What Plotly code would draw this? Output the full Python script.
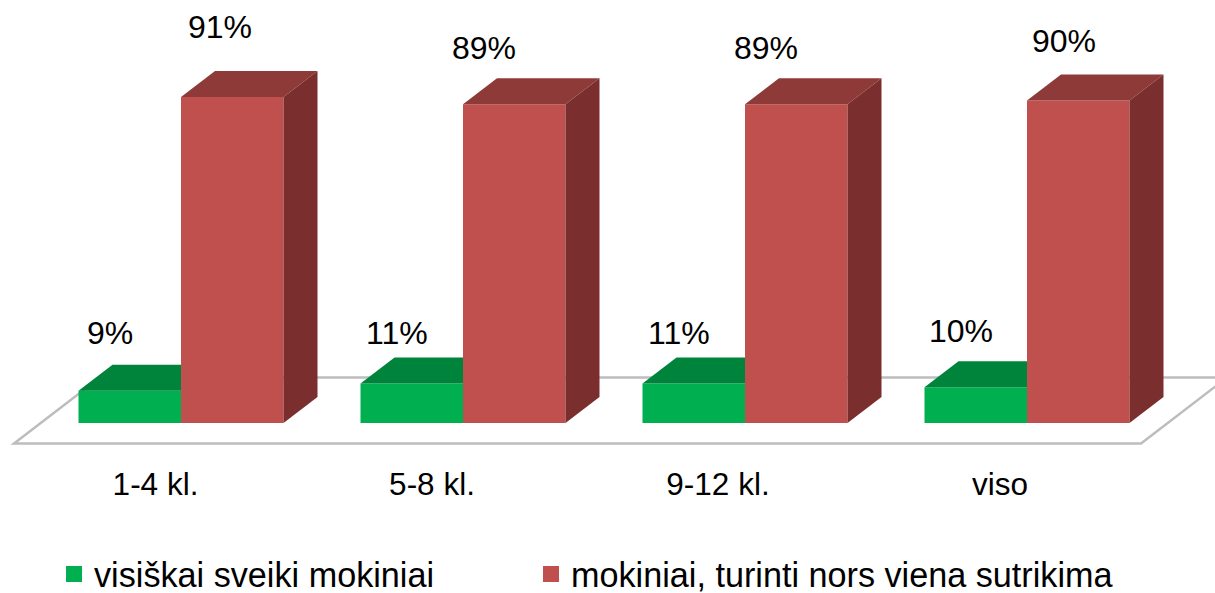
import plotly.graph_objects as go

categories = ["1-4 kl.", "5-8 kl.", "9-12 kl.", "viso"]
healthy = [9, 11, 11, 10]
affected = [91, 89, 89, 90]
healthy_name = "visiškai sveiki mokiniai"
affected_name = "mokiniai, turinti nors viena sutrikima"

FONT = "Liberation Sans, Arial, sans-serif"
W, H = 1215, 593
PLOT_BOTTOM = 462
PX_X = 282.0      # px per group
PX_Y = 3.582      # px per percent
X0_PX, Y0_PX = 181.0, 423.0
BAR = 102.5 / PX_X
DX, DY = 34 / PX_X, 26 / PX_Y

xs = list(range(len(categories)))
xr = [-X0_PX / PX_X, (W - X0_PX) / PX_X]
yr = [-(PLOT_BOTTOM - Y0_PX) / PX_Y, Y0_PX / PX_Y]

def px(xp): return (xp - X0_PX) / PX_X
def py(yp): return (Y0_PX - yp) / PX_Y

fig = go.Figure()
fig.add_bar(x=xs, y=healthy, width=BAR, offset=-BAR, marker=dict(color="#00B050", line_width=0), showlegend=False)
fig.add_bar(x=xs, y=affected, width=BAR, offset=0, marker=dict(color="#C0504D", line_width=0), showlegend=False)

def poly(pts, color):
    fig.add_scatter(x=[p[0] for p in pts] + [pts[0][0]], y=[p[1] for p in pts] + [pts[0][1]],
                    mode="lines", fill="toself", fillcolor=color, line=dict(width=0, color=color),
                    showlegend=False, hoverinfo="skip")

for x, g, r in zip(xs, healthy, affected):
    poly([(x - BAR, g), (x - BAR + DX, g + DY), (x, g + DY), (x, g)], "#00843C")
    poly([(x, r), (x + DX, r + DY), (x + BAR + DX, r + DY), (x + BAR, r)], "#8E3A38")
    poly([(x + BAR, 0), (x + BAR + DX, DY), (x + BAR + DX, r + DY), (x + BAR, r)], "#7A2F2E")

# legend proxies
fig.add_scatter(x=[None], y=[None], mode="markers", name=healthy_name, legend="legend",
                marker=dict(symbol="square", size=16, color="#00B050"))
fig.add_scatter(x=[None], y=[None], mode="markers", name=affected_name, legend="legend2",
                marker=dict(symbol="square", size=16, color="#C0504D"))

# floor
floor = [(14, 443.5), (1141, 443.5), (1227, 377.5), (100, 377.5)]
path = "M " + " L ".join(f"{px(a)},{py(b)}" for a, b in floor) + " Z"
fig.add_shape(type="path", path=path, xref="x", yref="y", layer="below",
              fillcolor="white", line=dict(color="#BDBDBD", width=2.5))

label_shift_g = [(-19.5, 58), (-14.5, 51), (-14.5, 51), (-15, 56)]
label_shift_r = [(-12, 70), (-30, 56), (-30, 56), (-14, 60)]
for x, g, r, sg, sr in zip(xs, healthy, affected, label_shift_g, label_shift_r):
    fig.add_annotation(x=x - BAR / 2, y=g, text=f"{g}%", showarrow=False, xshift=sg[0], yshift=sg[1],
                       font=dict(family=FONT, size=32, color="black"))
    fig.add_annotation(x=x + BAR / 2, y=r, text=f"{r}%", showarrow=False, xshift=sr[0], yshift=sr[1],
                       font=dict(family=FONT, size=32, color="black"))

tick_shift = [-25.5, -31, -27, -27]
legend_font = dict(family=FONT, size=34.2, color="black")
fig.update_layout(
    width=W, height=H,
    margin=dict(l=0, r=0, t=0, b=H - PLOT_BOTTOM, pad=0, autoexpand=False),
    paper_bgcolor="white", plot_bgcolor="rgba(0,0,0,0)",
    barmode="overlay",
    xaxis=dict(range=xr, tickmode="array", tickvals=[x + s / PX_X for x, s in zip(xs, tick_shift)],
               ticktext=categories, showgrid=False, zeroline=False, showline=False, ticks="",
               tickfont=dict(family=FONT, size=31.5, color="black")),
    yaxis=dict(range=yr, visible=False, showgrid=False, zeroline=False),
    legend=dict(x=54 / W, xanchor="left", y=-0.18, yanchor="top", font=legend_font, bgcolor="rgba(0,0,0,0)"),
    legend2=dict(x=531 / W, xanchor="left", y=-0.18, yanchor="top", font=legend_font, bgcolor="rgba(0,0,0,0)"),
)
fig.write_html("out.html", config={"displayModeBar": False},
               post_script="document.body.style.margin='0';document.documentElement.style.overflow='hidden';")
